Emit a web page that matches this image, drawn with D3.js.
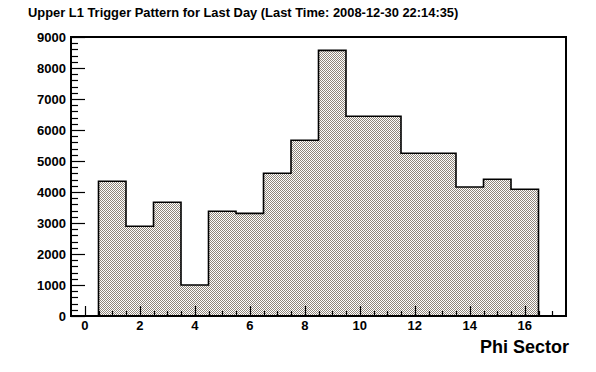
<!DOCTYPE html>
<html>
<head>
<meta charset="utf-8">
<title>Upper L1 Trigger Pattern</title>
<script src="https://cdn.jsdelivr.net/npm/d3@7"></script>
<style>
body { margin: 0; background: #fff; }
text { font-family: "Liberation Sans", Arial, sans-serif; font-weight: bold; fill: #000; }
</style>
</head>
<body>
<svg width="596" height="372" id="chart"></svg>
<script>
// bin centres (phi sector) and counts
var sectors = [1, 2, 3, 4, 5, 6, 7, 8, 9, 10, 11, 12, 13, 14, 15, 16];
var counts = [4345, 2893, 3668, 1000, 3377, 3312, 4603, 5667, 8570, 6442, 6442, 5248, 5248, 4161, 4410, 4087];
var xTicks = [0, 2, 4, 6, 8, 10, 12, 14, 16];
var yTicks = [0, 1000, 2000, 3000, 4000, 5000, 6000, 7000, 8000, 9000];
var title = "Upper L1 Trigger Pattern for Last Day (Last Time: 2008-12-30 22:14:35)";

var svg = d3.select("#chart");
var frame = { left: 71, right: 566, top: 37, bottom: 316 };

var x = d3.scaleLinear().domain([-0.5, 17.5]).range([frame.left, frame.right]);
var y = d3.scaleLinear().domain([0, 9000]).range([frame.bottom, frame.top]);

// checkered fill like ROOT's fill style
var defs = svg.append("defs");
var pat = defs.append("pattern").attr("id", "chk")
  .attr("width", 2).attr("height", 2).attr("patternUnits", "userSpaceOnUse");
pat.append("rect").attr("width", 2).attr("height", 2).attr("fill", "#fff");
pat.append("rect").attr("width", 1).attr("height", 1).attr("fill", "#8f867b");
pat.append("rect").attr("x", 1).attr("y", 1).attr("width", 1).attr("height", 1).attr("fill", "#8f867b");

svg.append("text").attr("x", 28).attr("y", 17).style("font-size", "12.9px").text(title);

// histogram outline path built from the bins
var pts = [];
sectors.forEach(function(s, i) {
  if (i == 0) pts.push([x(s - 0.5), y(0)]);
  pts.push([x(s - 0.5), y(counts[i])]);
  pts.push([x(s + 0.5), y(counts[i])]);
});
pts.push([x(sectors[sectors.length - 1] + 0.5), y(0)]);

svg.append("path").attr("d", d3.line()(pts) + "Z")
  .attr("fill", "url(#chk)").attr("stroke", "none");
svg.append("path").attr("d", d3.line()(pts))
  .attr("fill", "none").attr("stroke", "#000").attr("stroke-width", 1.6);

// axes, ROOT style: ticks point inward
var xMinor = d3.range(0, 17.01, 0.5).filter(function(v) { return v % 2 != 0; });
var yMinor = d3.range(0, 9001, 200).filter(function(v) { return v % 1000 != 0; });

var gx = svg.append("g").attr("stroke", "#000").attr("stroke-width", 1.2);
gx.selectAll(".xmaj").data(xTicks).enter().append("line")
  .attr("x1", function(d) { return Math.round(x(d)) + 0.5; }).attr("x2", function(d) { return Math.round(x(d)) + 0.5; })
  .attr("y1", frame.bottom).attr("y2", frame.bottom - 10);
gx.selectAll(".xmin").data(xMinor).enter().append("line")
  .attr("x1", function(d) { return Math.round(x(d)) + 0.5; }).attr("x2", function(d) { return Math.round(x(d)) + 0.5; })
  .attr("y1", frame.bottom).attr("y2", frame.bottom - 5);
gx.selectAll(".ymaj").data(yTicks).enter().append("line")
  .attr("y1", function(d) { return Math.round(y(d)) + 0.5; }).attr("y2", function(d) { return Math.round(y(d)) + 0.5; })
  .attr("x1", frame.left).attr("x2", frame.left + 14);
gx.selectAll(".ymin").data(yMinor).enter().append("line")
  .attr("y1", function(d) { return Math.round(y(d)) + 0.5; }).attr("y2", function(d) { return Math.round(y(d)) + 0.5; })
  .attr("x1", frame.left).attr("x2", frame.left + 7);

svg.append("rect").attr("x", frame.left).attr("y", frame.top)
  .attr("width", frame.right - frame.left).attr("height", frame.bottom - frame.top)
  .attr("fill", "none").attr("stroke", "#000").attr("stroke-width", 2);

svg.selectAll(".xl").data(xTicks).enter().append("text")
  .attr("x", function(d) { return x(d); }).attr("y", 329.5)
  .attr("text-anchor", "middle").style("font-size", "13px").text(function(d) { return d; });
svg.selectAll(".yl").data(yTicks).enter().append("text")
  .attr("x", 66).attr("y", function(d) { return y(d) + 4.5; })
  .attr("text-anchor", "end").style("font-size", "13px").text(function(d) { return d; });

svg.append("text").attr("x", 569).attr("y", 353).attr("text-anchor", "end")
  .style("font-size", "18px").text("Phi Sector");
</script>
</body>
</html>
